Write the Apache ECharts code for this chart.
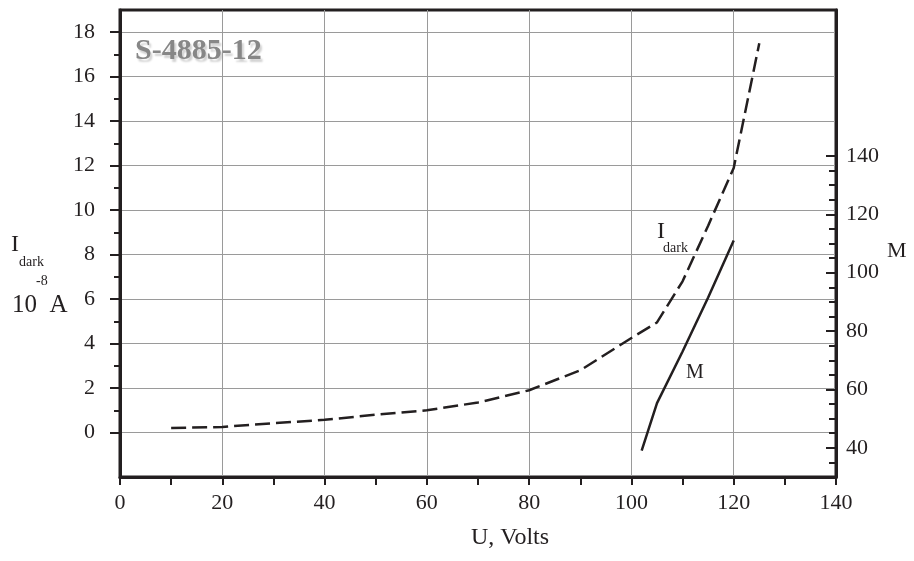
<!DOCTYPE html>
<html>
<head>
<meta charset="utf-8">
<script src="https://cdn.jsdelivr.net/npm/echarts@6/dist/echarts.min.js"></script>
<style>
  html, body { margin: 0; padding: 0; background: #fff; }
  #chart { width: 914px; height: 561px; }
</style>
</head>
<body>
<div id="chart"></div>
<script>
// dark current, 10^-8 A (left axis)
const uIdark = [10, 20, 30, 40, 50, 60, 70, 80, 90, 100, 105, 110, 115, 120, 125]
const idark = [0.2, 0.25, 0.42, 0.57, 0.8, 1.0, 1.35, 1.9, 2.8, 4.25, 4.95, 6.8, 9.3, 11.9, 17.5]

// gain M (right axis)
const uM = [102, 105, 110, 115, 120]
const mGain = [39, 55.3, 73, 91.5, 111]

// tick labels
const leftTicks = [0, 2, 4, 6, 8, 10, 12, 14, 16, 18]
const leftMinorTicks = [1, 3, 5, 7, 9, 11, 13, 15, 17]
const rightTicks = [40, 60, 80, 100, 120, 140]
const rightMinorTicks = [35, 45, 50, 55, 65, 70, 75, 85, 90, 95, 105, 110, 115, 125, 130, 135]

const ink = '#231f20'
const gridGray = '#9a9a9a'
const serif = '"Liberation Serif", "DejaVu Serif", serif'
const labelSize = 22

const chart = echarts.init(document.getElementById('chart'))

const axisLine = { show: true, onZero: false, lineStyle: { color: ink, width: 3 } }
const tickStyle = { color: ink, width: 2 }

function txt(text, x, y, size, extra) {
  return {
    type: 'text',
    x: x,
    y: y,
    silent: true,
    style: Object.assign({
      text: text,
      font: size + 'px ' + serif,
      fill: ink,
      textAlign: 'left',
      textVerticalAlign: 'middle',
    }, extra || {}),
  }
}

const option = {
  animation: false,
  backgroundColor: '#fff',
  grid: {
    left: 120, right: 78, top: 10, bottom: 84,
    show: true,
    borderColor: ink,
    borderWidth: 3,
    outerBoundsMode: 'none',
  },
  xAxis: {
    type: 'value',
    min: 0,
    max: 140,
    interval: 20,
    axisLine: axisLine,
    axisTick: { show: true, length: 8, lineStyle: tickStyle },
    minorTick: { show: true, splitNumber: 2, length: 8, lineStyle: tickStyle },
    axisLabel: { color: ink, fontFamily: serif, fontSize: labelSize, margin: 15 },
    splitLine: { show: true, lineStyle: { color: gridGray, width: 1 } },
  },
  yAxis: [
    {
      type: 'value',
      position: 'left',
      min: -2,
      max: 19,
      interval: 2,
      axisLine: axisLine,
      axisTick: { show: true, length: 10, lineStyle: tickStyle, customValues: leftTicks },
      axisLabel: { color: ink, fontFamily: serif, fontSize: labelSize, margin: 25, customValues: leftTicks },
      splitLine: { show: true, lineStyle: { color: gridGray, width: 1 } },
    },
    {
      // minor ticks, left
      type: 'value',
      position: 'left',
      min: -2,
      max: 19,
      axisLine: { show: false },
      axisTick: { show: true, length: 6, lineStyle: tickStyle, customValues: leftMinorTicks },
      axisLabel: { show: false },
      splitLine: { show: false },
    },
    {
      type: 'value',
      position: 'right',
      min: 30,
      max: 190,
      axisLine: axisLine,
      axisTick: { show: true, inside: true, length: 10, lineStyle: tickStyle, customValues: rightTicks },
      axisLabel: { color: ink, fontFamily: serif, fontSize: labelSize, margin: 10, customValues: rightTicks },
      splitLine: { show: false },
    },
    {
      // minor ticks, right
      type: 'value',
      position: 'right',
      min: 30,
      max: 190,
      axisLine: { show: false },
      axisTick: { show: true, inside: true, length: 7, lineStyle: tickStyle, customValues: rightMinorTicks },
      axisLabel: { show: false },
      splitLine: { show: false },
    },
  ],
  series: [
    {
      name: 'Idark',
      type: 'line',
      xAxisIndex: 0,
      yAxisIndex: 0,
      data: uIdark.map((u, i) => [u, idark[i]]),
      symbol: 'none',
      lineStyle: { color: ink, width: 2.5, type: [15, 6] },
    },
    {
      name: 'M',
      type: 'line',
      xAxisIndex: 0,
      yAxisIndex: 2,
      data: uM.map((u, i) => [u, mGain[i]]),
      symbol: 'none',
      lineStyle: { color: ink, width: 2.5 },
    },
  ],
  graphic: [
    txt('S-4885-12', 135, 51, 30, {
      font: 'bold 30px ' + serif,
      fill: '#878787',
      textShadowColor: 'rgba(0,0,0,0.18)',
      textShadowBlur: 2,
      textShadowOffsetX: 2,
      textShadowOffsetY: 3,
    }),
    // left axis name
    txt('I', 11, 245, 24),
    txt('dark', 19, 262.5, 14),
    txt('-8', 36, 281.5, 14),
    txt('10  A', 12, 305, 25),
    // right axis name
    txt('M', 887, 251, 22),
    // x axis name
    txt('U, Volts', 510, 538, 24, { textAlign: 'center' }),
    // curve labels
    txt('I', 657, 231.5, 24),
    txt('dark', 663, 248, 14),
    txt('M', 686, 372.5, 20),
  ],
}

chart.setOption(option)
</script>
</body>
</html>
